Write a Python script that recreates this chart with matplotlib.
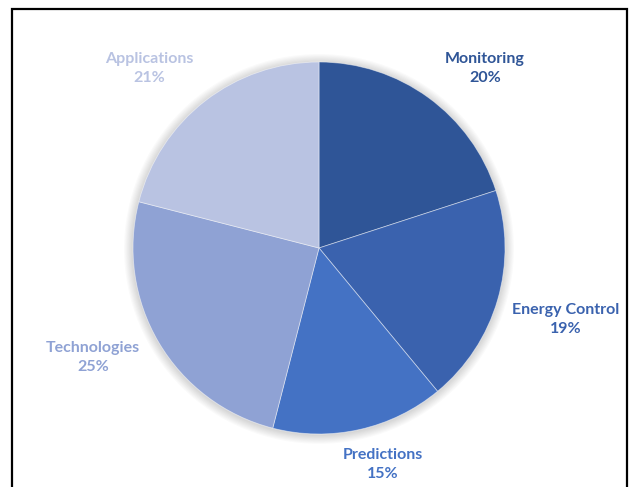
import matplotlib

matplotlib.use("Agg")
import matplotlib.pyplot as plt
from matplotlib.patches import Circle, Rectangle

categories = ["Monitoring", "Energy Control", "Predictions", "Technologies", "Applications"]
shares = [20, 19, 15, 25, 21]
colors = ["#2F5597", "#3A62AE", "#4472C4", "#8FA2D4", "#B9C3E2"]

# label anchor points, in pie-radius units
label_xy = [(0.892, 0.963), (1.328, -0.386), (0.344, -1.166), (-1.215, -0.591), (-0.914, 0.963)]

W, H = 630, 487
CX, CY, R = 319, 248, 186

fig = plt.figure(figsize=(W / 100, H / 100), dpi=100)
ax = fig.add_axes([0, 0, 1, 1])

# soft drop shadow under the pie
for i in range(8):
    ax.add_patch(Circle((0.0, -0.005), 1.0 + 0.006 * (i + 1), color="black",
                        alpha=0.018, lw=0, zorder=0))

ax.pie(shares, colors=colors, startangle=90, counterclock=False, radius=1.0,
       wedgeprops=dict(edgecolor=(1, 1, 1, 0.5), linewidth=0.6), center=(0, 0), frame=True)
ax.set_aspect("equal")
ax.axis("off")
ax.set_xlim(-CX / R, (W - CX) / R)
ax.set_ylim(-(H - CY) / R, CY / R)

for name, share, color, (x, y) in zip(categories, shares, colors, label_xy):
    ax.text(x, y, f"{name}\n{share}%", color=color, ha="center", va="center",
            fontsize=11.5, fontweight="bold", family="Lato", linespacing=1.45)

# outer frame, open at the bottom
fig.patches.append(Rectangle((12 / W, -0.05), (627 - 12) / W, 1.05 - 9 / H,
                             transform=fig.transFigure, fill=False,
                             edgecolor="black", linewidth=1.6))

fig.savefig("out.png", dpi=100)
